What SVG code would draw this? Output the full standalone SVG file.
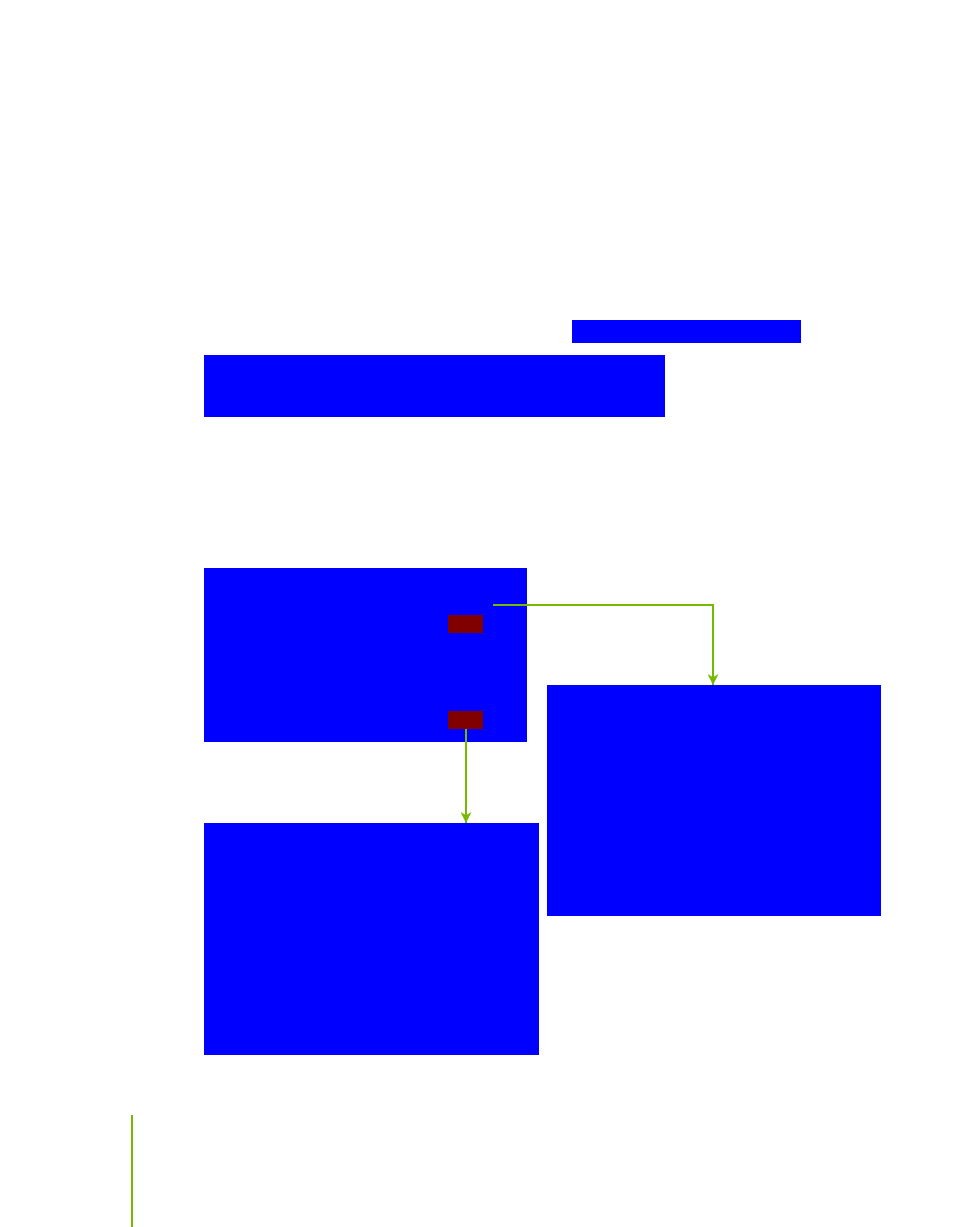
<svg xmlns="http://www.w3.org/2000/svg" width="954" height="1227" viewBox="0 0 954 1227">
<style>
.blk{fill:#0000ff}
.port{fill:#800000}
.wire{fill:none;stroke:#76b900;stroke-width:2}
</style>
<defs>
<marker id="ah" viewBox="0 0 10 10" refX="10" refY="5" markerWidth="11" markerHeight="11" orient="auto" markerUnits="userSpaceOnUse">
<path d="M0,0 L10,5 L0,10 L3,5 Z" fill="#76b900"/>
</marker>
</defs>
<rect width="954" height="1227" fill="#ffffff"/>
<g id="n1"><rect class="blk" x="572" y="320" width="229" height="23"/></g>
<g id="n2"><rect class="blk" x="204" y="355" width="461" height="62"/></g>
<g id="n3"><rect class="blk" x="204" y="568" width="323" height="174"/>
<rect class="port" x="448" y="615" width="35" height="18"/>
<rect class="port" x="448" y="711" width="35" height="18"/></g>
<g id="n4"><rect class="blk" x="547" y="685" width="334" height="231"/></g>
<g id="n5"><rect class="blk" x="204" y="823" width="335" height="232"/></g>
<g id="connectors">
<path class="wire" d="M493,605 H713 V685" marker-end="url(#ah)"/>
<path class="wire" d="M466,729 V823" marker-end="url(#ah)"/>
<path class="wire" d="M132,1115 V1227"/>
</g>
</svg>
